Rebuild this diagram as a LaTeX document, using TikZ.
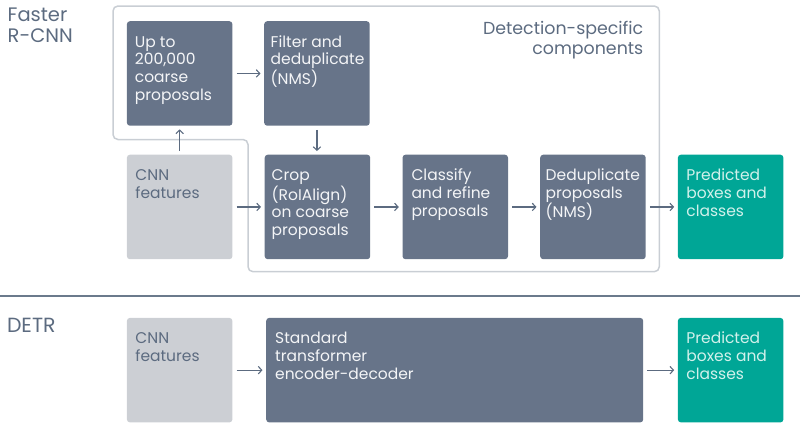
\documentclass[tikz,border=0pt]{standalone}
\usepackage{fontspec}
\setmainfont{Poppins}
\usetikzlibrary{arrows.meta,calc}
\definecolor{darkbox}{HTML}{677489}
\definecolor{lightbox}{HTML}{CCCFD4}
\definecolor{tealbox}{HTML}{00A696}
\definecolor{outlinec}{HTML}{C9CED4}
\definecolor{labelc}{HTML}{5C6B80}
\definecolor{darktext}{HTML}{F4F5F7}
\definecolor{teattext}{HTML}{D2F1EB}
\definecolor{dividerc}{HTML}{6B7A8C}
\begin{document}
\begin{tikzpicture}[x=1pt,y=-1pt,
  boxbase/.style={rectangle, rounded corners=3pt, inner sep=0pt, anchor=north west,
    minimum width=105.5pt, minimum height=104.5pt},
  darkb/.style={boxbase, fill=darkbox},
  lightb/.style={boxbase, fill=lightbox},
  tealb/.style={boxbase, fill=tealbox},
  boxtext/.style={anchor=north west, inner sep=0pt, align=left,
    font=\fontsize{15.5}{17.8}\selectfont},
  grouplabel/.style={anchor=north west, inner sep=0pt, align=left, text=labelc,
    font=\fontsize{19.5}{21}\selectfont},
  arr/.style={draw=labelc, line width=1.1pt, shorten <=4pt, shorten >=3.5pt,
    -{Straight Barb[length=3.5pt,width=7.5pt]}}
]
\useasboundingbox (0,0) rectangle (800,431);

% outline of detection-specific region
\draw[outlinec, line width=1.5pt, rounded corners=5pt]
  (113,6) -- (659.3,6) -- (659.3,271.7) -- (248,271.7) -- (248,139.5) -- (113,139.5) -- cycle;
\node[anchor=north east, inner sep=0pt, align=right, text=labelc,
  font=\fontsize{17.4}{20}\selectfont] (dslabel) at (643.5,20.8)
  {\rule{0pt}{12.5pt}Detection-specific\\components};

% group labels
\node[grouplabel] (frcnn) at (7.5,8.2) {\rule{0pt}{13.5pt}Faster\\R-CNN};
\node[grouplabel, font=\fontsize{20.5}{21}\selectfont] (detr) at (6.8,318.2) {\rule{0pt}{14.1pt}DETR};

% divider
\draw[dividerc, line width=1.5pt] (0,296) -- (800,296);

% Faster R-CNN boxes
\node[darkb] (up) at (126.7,21) {};
\node[darkb] (filter) at (264,21) {};
\node[lightb] (cnn) at (126.7,154.5) {};
\node[darkb] (crop) at (264.5,154.5) {};
\node[darkb] (classify) at (402.3,154.5) {};
\node[darkb] (dedup) at (540,154.5) {};
\node[tealb] (pred) at (677.7,154.5) {};

% DETR boxes
\node[lightb] (cnn2) at (126.7,317.7) {};
\node[darkb, minimum width=377pt] (std) at (266,317.7) {};
\node[tealb] (pred2) at (677.7,317.7) {};

% texts
\newcommand{\fl}{\rule{0pt}{12pt}}
\node[boxtext, text=darktext] (upt) at ($(up.north west)+(8,13.9)$) {\fl Up to\\200,000\\coarse\\proposals};
\node[boxtext, text=darktext] (filtert) at ($(filter.north west)+(6.5,13.9)$) {\fl Filter and\\deduplicate\\(NMS)};
\node[boxtext, text=labelc] (cnnt) at ($(cnn.north west)+(8.5,13.9)$) {\fl CNN\\features};
\node[boxtext, text=darktext] (cropt) at ($(crop.north west)+(7,13.9)$) {\fl Crop\\(RoIAlign)\\on coarse\\proposals};
\node[boxtext, text=darktext] (classifyt) at ($(classify.north west)+(9,13.9)$) {\fl Classify\\and refine\\proposals};
\node[boxtext, text=darktext] (dedupt) at ($(dedup.north west)+(5.5,13.9)$) {\fl Deduplicate\\proposals\\(NMS)};
\node[boxtext, text=teattext] (predt) at ($(pred.north west)+(8.5,13.9)$) {\fl Predicted\\boxes and\\classes};
\node[boxtext, text=labelc] (cnn2t) at ($(cnn2.north west)+(8.5,13.9)$) {\fl CNN\\features};
\node[boxtext, text=darktext] (stdt) at ($(std.north west)+(9,13.9)$) {\fl Standard\\transformer\\encoder-decoder};
\node[boxtext, text=teattext] (pred2t) at ($(pred2.north west)+(8.5,13.9)$) {\fl Predicted\\boxes and\\classes};

% connectors
\draw[arr] (up.east) -- (filter.west);
\draw[arr] (filter.south) -- (filter.south |- crop.north);
\draw[arr] (cnn.north) -- (up.south);
\draw[arr] (cnn.east) -- (crop.west);
\draw[arr] (crop.east) -- (classify.west);
\draw[arr] (classify.east) -- (dedup.west);
\draw[arr] (dedup.east) -- (pred.west);
\draw[arr] (cnn2.east) -- (std.west);
\draw[arr] (std.east) -- (pred2.west);
\end{tikzpicture}
\end{document}
